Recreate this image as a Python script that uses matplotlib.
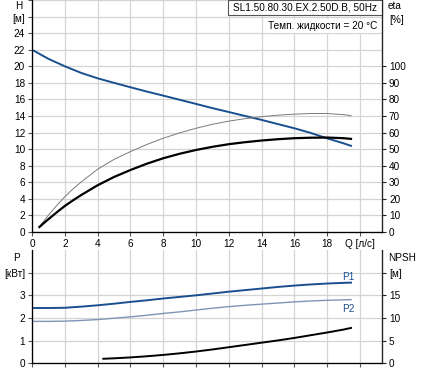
import matplotlib
matplotlib.use("Agg")
import matplotlib.pyplot as plt
from matplotlib.patches import Rectangle

# ----- DATA -----

q = [0, 1, 2, 3, 4, 5, 6, 7, 8, 9, 10, 11, 12, 13, 14, 15, 16, 17, 18, 19, 19.45]
head = [22.0, 20.9, 20.0, 19.2, 18.55, 18.0, 17.47, 16.95, 16.46, 15.96, 15.46,
        14.95, 14.48, 14.0, 13.53, 13.02, 12.52, 11.95, 11.3, 10.7, 10.4]

q_eta = [0.45, 0.7, 1, 1.5, 2, 2.5, 3, 4, 5, 6, 7, 8, 9, 10, 11, 12, 13, 14,
         15, 16, 17, 18, 19, 19.45]
eta_pump = [3.0, 6.3, 10.1, 15.9, 21.3, 26.0, 30.2, 37.9, 43.8, 48.5, 52.8,
            56.6, 59.8, 62.6, 65.0, 66.9, 68.4, 69.6, 70.5, 71.1, 71.5, 71.5,
            70.8, 70.2]
eta_total = [3.0, 5.2, 7.7, 11.8, 15.7, 19.1, 22.3, 28.2, 33.2, 37.4, 41.2,
             44.5, 47.2, 49.5, 51.4, 53.0, 54.2, 55.2, 56.0, 56.6, 56.9, 57.0,
             56.6, 56.2]

p1 = [2.44, 2.44, 2.45, 2.50, 2.56, 2.63, 2.71, 2.78, 2.86, 2.93, 3.00,
      3.08, 3.16, 3.23, 3.30, 3.37, 3.43, 3.48, 3.52, 3.55, 3.56]
p2 = [1.85, 1.85, 1.86, 1.89, 1.93, 1.99, 2.05, 2.12, 2.20, 2.27, 2.35,
      2.43, 2.50, 2.56, 2.61, 2.66, 2.71, 2.75, 2.78, 2.80, 2.81]

q_npsh = [4.35, 5, 6, 7, 8, 9, 10, 11, 12, 13, 14, 15, 16, 17, 18, 19, 19.45]
npsh = [1.0, 1.1, 1.3, 1.55, 1.85, 2.2, 2.6, 3.05, 3.55, 4.05, 4.55, 5.05,
        5.6, 6.2, 6.8, 7.45, 7.8]

q_ticks = [0, 2, 4, 6, 8, 10, 12, 14, 16, 18, 20]
q_labels = ["0", "2", "4", "6", "8", "10", "12", "14", "16", "18", "Q [л/с]"]

title = "SL1.50.80.30.EX.2.50D.B, 50Hz"
subtitle = "Темп. жидкости = 20 °C"

# ----- STYLE -----

plt.rcParams["font.family"] = ["Liberation Sans", "DejaVu Sans"]
plt.rcParams["font.size"] = 7.2

BLUE = "#1a4f8f"
LIGHT_BLUE = "#7f95b5"
GRID = "#d4d4d4"
W, H = 422, 372


def style_axes(ax):
    ax.set_xlim(0, 21.34)
    ax.spines["top"].set_visible(False)
    for s in ("left", "right", "bottom"):
        ax.spines[s].set_color("#222222")
        ax.spines[s].set_linewidth(0.9)
    ax.tick_params(length=3, width=0.8, color="#555555", pad=2)
    ax.set_xticks(q_ticks)
    ax.grid(True, color=GRID, linewidth=0.9)
    ax.set_axisbelow(True)


fig = plt.figure(figsize=(W / 100, H / 100), dpi=100)

# ----- TOP: head + efficiency -----

ax = fig.add_axes([32 / W, 1 - 232 / H, 350 / W, 232 / H])
style_axes(ax)
ax.set_ylim(0, 28)
ax.set_yticks(range(0, 29, 2))
ax.set_yticklabels([str(v) if v <= 24 else "" for v in range(0, 29, 2)])
ax.set_xticklabels(q_labels)
ax.plot(q, head, color=BLUE, lw=1.4, zorder=3)

ax_eta = ax.twinx()
ax_eta.set_ylim(0, 140)
ax_eta.set_yticks(range(0, 101, 10))
ax_eta.spines["top"].set_visible(False)
ax_eta.spines["right"].set_color("#222222")
ax_eta.tick_params(length=3, width=0.8, color="#222222", pad=2)
ax_eta.plot(q_eta, eta_pump, color="#7a7a7a", lw=0.7)
ax_eta.plot(q_eta, eta_total, color="black", lw=1.6)

# title boxes
ax.add_patch(Rectangle((0.56, 0.935), 0.44, 0.065, transform=ax.transAxes,
                       facecolor="white", edgecolor="#555555", lw=0.8,
                       zorder=5, clip_on=False))
ax.text(0.78, 0.967, title, transform=ax.transAxes, ha="center",
        va="center", zorder=6)
ax.text(0.986, 0.888, subtitle, transform=ax.transAxes, ha="right",
        va="center", zorder=6,
        bbox=dict(facecolor="white", edgecolor="none", pad=1.5))

fig.text(19 / W, 1 - 6 / H, "H", ha="center", va="center")
fig.text(19 / W, 1 - 19 / H, "[м]", ha="center", va="center")
fig.text(388 / W, 1 - 6 / H, "eta", ha="left", va="center")
fig.text(389 / W, 1 - 20 / H, "[%]", ha="left", va="center")

# ----- BOTTOM: power + NPSH -----

bx = fig.add_axes([32 / W, 1 - 363.3 / H, 350 / W, 113.3 / H])
style_axes(bx)
bx.set_ylim(0, 5)
bx.set_yticks([0, 1, 2, 3, 4])
bx.set_yticklabels(["0", "1", "2", "3", "[кВт]"])
bx.tick_params(axis="x", labelbottom=False)
bx.plot(q, p1, color=BLUE, lw=1.4, zorder=3)
bx.plot(q, p2, color=LIGHT_BLUE, lw=1.0, zorder=3)
bx.text(19.3, 3.8, "P1", color=BLUE, ha="center", va="center")
bx.text(19.3, 2.4, "P2", color=BLUE, ha="center", va="center")

bx_npsh = bx.twinx()
bx_npsh.set_ylim(0, 25)
bx_npsh.set_yticks([0, 5, 10, 15, 20])
bx_npsh.set_yticklabels(["0", "5", "10", "15", "[м]"])
bx_npsh.spines["top"].set_visible(False)
bx_npsh.spines["right"].set_color("#222222")
bx_npsh.tick_params(length=3, width=0.8, color="#222222", pad=2)
bx_npsh.plot(q_npsh, npsh, color="black", lw=1.4)

fig.text(17 / W, 1 - 258 / H, "P", ha="center", va="center")
fig.text(388 / W, 1 - 258 / H, "NPSH", ha="left", va="center")

fig.savefig("out.png", dpi=100)
